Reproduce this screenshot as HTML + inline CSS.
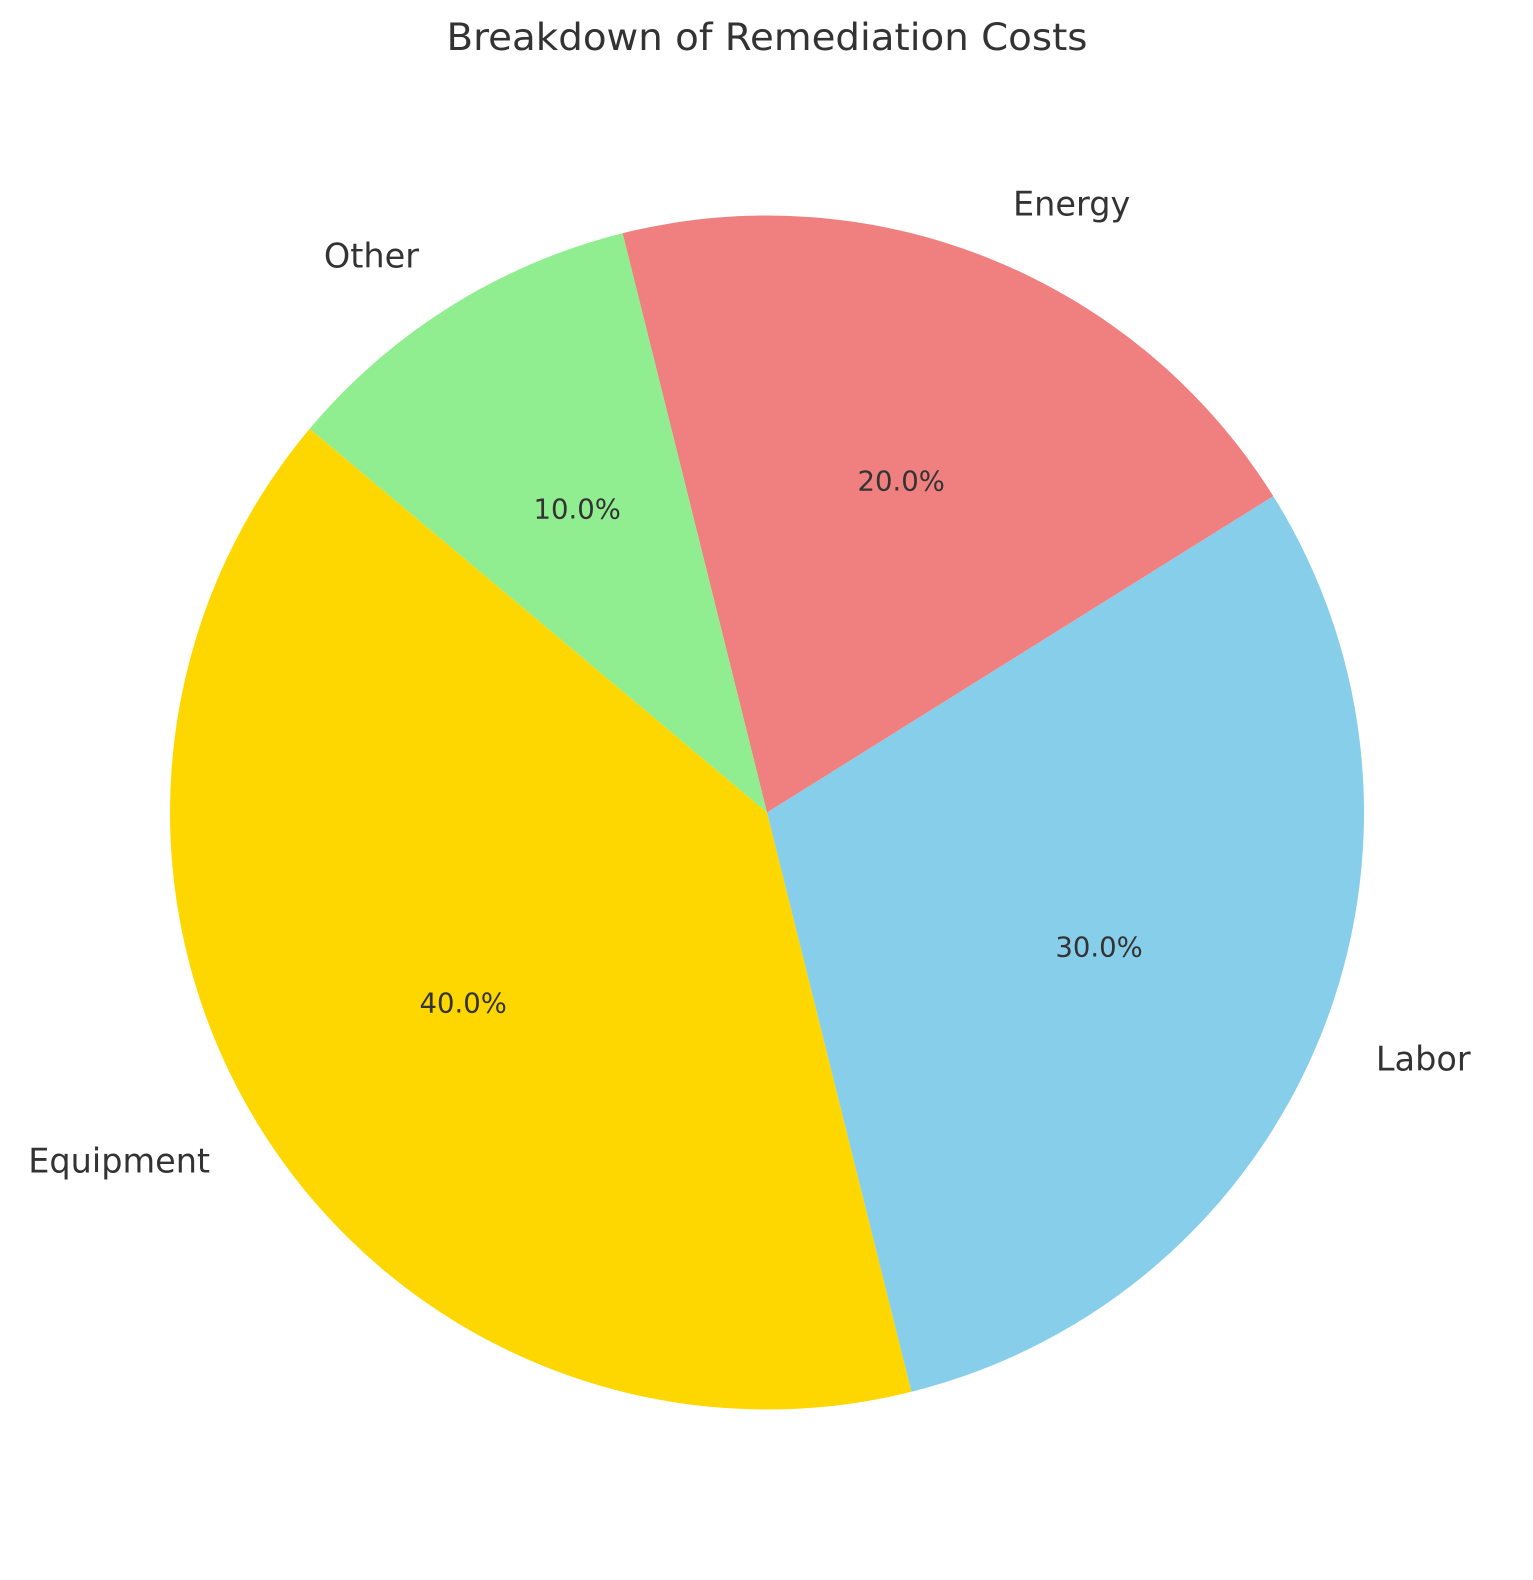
<!DOCTYPE html>
<html><head><meta charset="utf-8"><style>
html,body{margin:0;padding:0;background:#fff;width:1533px;height:1580px;overflow:hidden;}
svg{display:block;font-family:"DejaVu Sans","Liberation Sans",sans-serif;}
</style></head><body>
<svg id="chart" width="1533" height="1580" viewBox="0 0 1533 1580">
<text x="767" y="50" text-anchor="middle" font-size="37" fill="#333" textLength="641" lengthAdjust="spacingAndGlyphs">Breakdown of Remediation Costs</text>
<g id="slices"></g><g id="labels"></g>
</svg>
<script>
const categories = ["Equipment", "Labor", "Energy", "Other"];
const values = [40, 30, 20, 10];
const colors = ["#FFD700", "#87CEEB", "#F08080", "#90EE90"];
const startAngle = 140;
const cx = 767, cy = 812.5, r = 597;
const NS = "http://www.w3.org/2000/svg";
const total = values.reduce((a,b)=>a+b,0);
const gS = document.getElementById("slices"), gL = document.getElementById("labels");
function pt(a, rr){const t=a*Math.PI/180;return [cx+rr*Math.cos(t), cy-rr*Math.sin(t)];}
let a0 = startAngle;
values.forEach((v,i)=>{
  const sweep = v/total*360, a1 = a0+sweep;
  const p0 = pt(a0,r), p1 = pt(a1,r);
  const large = sweep>180?1:0;
  const path = document.createElementNS(NS,"path");
  path.setAttribute("d",`M${cx},${cy} L${p0[0]},${p0[1]} A${r},${r} 0 ${large} 0 ${p1[0]},${p1[1]} Z`);
  path.setAttribute("fill",colors[i]);
  
  
  gS.appendChild(path);
  const mid = (a0+a1)/2;
  const lp = pt(mid, r*1.1);
  const t = document.createElementNS(NS,"text");
  t.setAttribute("x",lp[0]); t.setAttribute("y",lp[1]+12);
  t.setAttribute("font-size","33.5"); t.setAttribute("fill","#333");
  t.setAttribute("text-anchor", Math.cos(mid*Math.PI/180)>0?"start":"end");
  t.textContent = categories[i];
  
  
  gL.appendChild(t);
  const pp = pt(mid, r*0.6);
  const p = document.createElementNS(NS,"text");
  p.setAttribute("x",pp[0]); p.setAttribute("y",pp[1]+10);
  p.setAttribute("font-size","27.5"); p.setAttribute("fill","#333");
  p.setAttribute("text-anchor","middle");
  p.textContent = (v/total*100).toFixed(1)+"%";
  
  
  gL.appendChild(p);
  a0 = a1;
});
</script>
</body></html>
